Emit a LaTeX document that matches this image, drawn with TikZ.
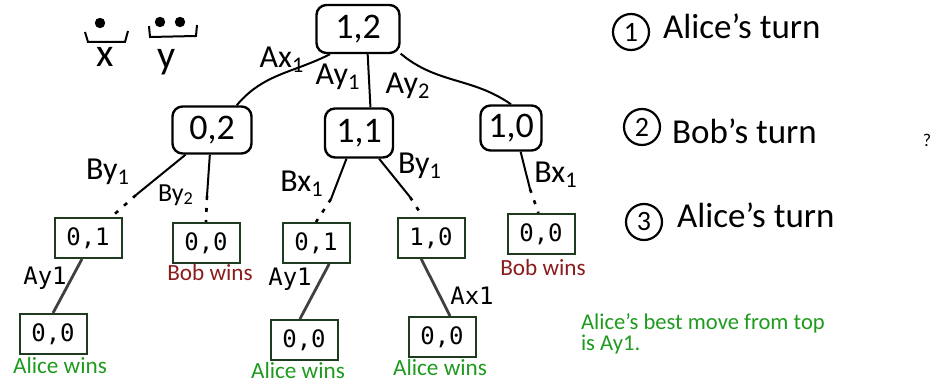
\documentclass[tikz,border=0pt]{standalone}
\usepackage{fontspec}
\setmainfont{Carlito}
\newfontfamily\mono{DejaVu Sans Mono}
\definecolor{boxgreen}{HTML}{1F3B1F}
\definecolor{winred}{HTML}{8B1C1C}
\definecolor{wingreen}{HTML}{1E9A1E}
\definecolor{edgegray}{HTML}{404040}
\tikzset{
  sketchbox/.style={draw,line width=1.2pt,rounded corners=5pt,inner sep=2pt,font=\fontsize{18}{18}\selectfont},
  leafbox/.style={draw=boxgreen,line width=1pt,inner sep=0pt,minimum width=33.5pt,minimum height=20pt,font=\mono\fontsize{12}{12}\selectfont},
  sketch/.style={line width=1pt},
  dotline/.style={line width=1.3pt,dash pattern=on 2pt off 4pt},
  move/.style={draw=edgegray,line width=1.4pt},
  movelabel/.style={font=\mono\fontsize{12}{12}\selectfont},
  handlabel/.style={font=\fontsize{16}{16}\selectfont},
  bobwin/.style={text=winred,font=\fontsize{11.6}{11.6}\selectfont},
  alicewin/.style={text=wingreen,font=\fontsize{11.6}{11.6}\selectfont},
  turn/.style={draw,circle,line width=1.1pt,minimum size=18pt,inner sep=0pt,font=\fontsize{14}{14}\selectfont},
  turnlabel/.style={font=\fontsize{17.5}{17.5}\selectfont}
}
\begin{document}
\begin{tikzpicture}[x=0.5pt,y=-0.5pt]
\useasboundingbox (0,0) rectangle (938,385);
\fill (100,23) circle (2.6pt);
\draw[sketch] (85,32) -- (88,42) -- (125,42) -- (128,31);
\node[font=\fontsize{20}{20}\selectfont] (varx) at (105,57) {x};
\fill (160,22) circle (2.6pt);
\fill (180,22) circle (2.6pt);
\draw[sketch] (149,26) -- (150,37) -- (196,36) -- (197,25);
\node[font=\fontsize{20}{20}\selectfont] (vary) at (167,62) {y};
\node[sketchbox,minimum width=41.5pt,minimum height=24pt] (r) at (358,29) {1,2};
\node[sketchbox,minimum width=39.5pt,minimum height=23.5pt] (b02) at (212,130) {0,2};
\node[sketchbox,minimum width=34pt,minimum height=24.5pt] (b11) at (359,133) {1,1};
\node[sketchbox,minimum width=30.5pt,minimum height=22.5pt] (b10) at (511,128) {1,0};
\node[leafbox] (l1) at (88,238) {0,1};
\node[leafbox] (l2) at (206,243) {0,0};
\node[leafbox] (l3) at (316,243) {0,1};
\node[leafbox] (l4) at (431,238) {1,0};
\node[leafbox] (l5) at (541,234) {0,0};
\node[leafbox] (a1) at (53,334) {0,0};
\node[leafbox] (a2) at (304,340) {0,0};
\node[leafbox] (a3) at (442,337) {0,0};
\coordinate (m1) at (136,195);
\coordinate (m2) at (207,196);
\coordinate (m3) at (331,199);
\coordinate (m4) at (410,197);
\coordinate (m5) at (530,189);
\draw[sketch] (r.222) to[out=207,in=50] (b02.45);
\draw[sketch] (r.-69) -- (b11.66);
\draw[sketch] (r.-30) to[out=-40,in=145] (b10.north);
\draw[sketch] (b02.223) -- (m1);
\draw[dotline] (m1) -- (l1.42);
\draw[sketch] (b02.265) -- (m2);
\draw[dotline] (m2) -- (l2.north);
\draw[sketch] (b11.244) -- (m3);
\draw[dotline] (m3) -- (l3.north);
\draw[sketch] (b11.-52) -- (m4);
\draw[dotline] (m4) -- (l4.111);
\draw[sketch] (b10.-68) -- (m5);
\draw[dotline] (m5) -- (l5.97);
\draw[move] (l1.254) -- (a1.north);
\draw[move] (l3.-58) -- (a2.101);
\draw[move] (l4.245) -- (a3.69);
\node[handlabel] (lax) at (282,60) {Ax\textsubscript{1}};
\node[handlabel] (lay1) at (338,77) {Ay\textsubscript{1}};
\node[handlabel] (lay2) at (408,86) {Ay\textsubscript{2}};
\node[handlabel] (lby1) at (108,172) {By\textsubscript{1}};
\node[handlabel,font=\fontsize{13}{13}\selectfont] (lby2) at (176,195) {By\textsubscript{2}};
\node[handlabel] (lbx1) at (302,184) {Bx\textsubscript{1}};
\node[handlabel] (lby3) at (420,166) {By\textsubscript{1}};
\node[handlabel] (lbx2) at (556,175) {Bx\textsubscript{1}};
\node[movelabel] (may1) at (45,278) {Ay1};
\node[movelabel] (may2) at (290,279) {Ay1};
\node[movelabel] (max1) at (472,296) {Ax1};
\node[bobwin] (w2) at (210,273) {Bob wins};
\node[bobwin] (w5) at (543,268) {Bob wins};
\node[alicewin] (w1) at (60,366) {Alice wins};
\node[alicewin] (w3) at (298,371) {Alice wins};
\node[alicewin] (w4) at (440,368) {Alice wins};
\node[turn] (t1) at (631,32) {1};
\node[turnlabel,anchor=west] (t1l) at (656,26) {Alice's turn};
\node[turn] (t2) at (642,127) {2};
\node[turnlabel,anchor=west] (t2l) at (665,131) {Bob's turn};
\node[turn] (t3) at (644,222) {3};
\node[turnlabel,anchor=west] (t3l) at (670,215) {Alice's turn};
\node[font=\fontsize{9}{9}\selectfont] (q) at (927,140) {?};
\node[alicewin,align=left,anchor=north west,font=\fontsize{11.3}{9.5}\selectfont] (best) at (574,306) {Alice's best move from top\\is Ay1.};
\end{tikzpicture}
\end{document}
